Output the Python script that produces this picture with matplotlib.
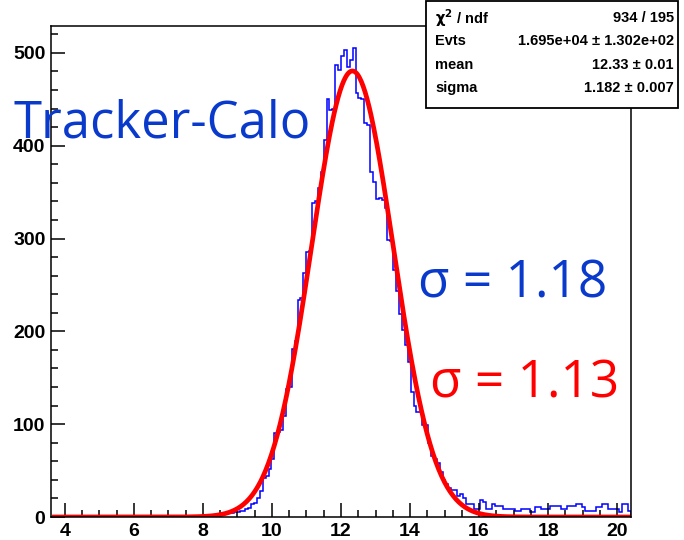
import numpy as np
import matplotlib.pyplot as plt
from matplotlib.patches import Rectangle
from matplotlib.ticker import MultipleLocator

# histogram: 200 bins between 3.6 and 20.4
x_min, x_max, n_bins = 3.6, 20.4, 200
counts = [0] * 55 + [
    1, 1, 2, 2, 3, 3, 4, 4, 5, 5,                                   # 55-64
    6, 6, 9, 10, 14, 15, 20, 28, 42, 44,                            # 65-74
    52, 62, 90, 92, 94, 109, 138, 140, 181, 190,                    # 75-84
    234, 236, 263, 286, 287, 338, 340, 355, 372, 406,               # 85-94
    450, 438, 440, 487, 482, 497, 503, 485, 492, 505,               # 95-104
    457, 451, 450, 424, 422, 372, 361, 343, 344, 342,               # 105-114
    333, 298, 297, 266, 244, 219, 201, 185, 167, 135,               # 115-124
    120, 113, 113, 99, 99, 80, 66, 62, 58, 48,                      # 125-134
    40, 36, 31, 29, 29, 23, 25, 20, 14, 14,                         # 135-144
    14, 9, 9, 18, 16, 9, 9, 14, 12, 12,                             # 145-154
    12, 9, 9, 9, 9, 7, 7, 9, 9, 9,                                  # 155-164
    5, 5, 11, 11, 9, 9, 9, 12, 12, 12,                              # 165-174
    12, 9, 9, 12, 12, 12, 14, 14, 11, 7,                            # 175-184
    7, 7, 7, 11, 11, 14, 14, 9, 9, 9,                               # 185-194
    9, 5, 14, 14, 7,                                                # 195-199
]

# fit result shown in the stat box
stat_names = [r"$\mathbf{\chi^{2}}$ / ndf", "Evts", "mean", "sigma"]
stat_values = ["934 / 195", "1.695e+04 ± 1.302e+02", "12.33 ± 0.01", "1.182 ± 0.007"]
evts, mean, sigma = 1.695e4, 12.33, 1.182

edges = np.linspace(x_min, x_max, n_bins + 1)
bw = edges[1] - edges[0]

W, H = 684, 540
fig = plt.figure(figsize=(W / 100, H / 100), dpi=100)
ax = fig.add_axes([51 / W, 1 - 517 / H, (631 - 51) / W, (517 - 26) / H])

ax.stairs(counts, edges, color="#0000ff", lw=1.1)

# gaussian fit curve from the stat box parameters
xf = np.linspace(3.63, x_max, 600)
amp = evts * bw / (np.sqrt(2 * np.pi) * sigma)
yf = amp * np.exp(-0.5 * ((xf - mean) / sigma) ** 2)
ax.plot(xf, yf, color="red", lw=3.4, solid_capstyle="butt")

ax.set_xlim(x_min, x_max)
ax.set_ylim(0, 529)
ax.xaxis.set_major_locator(MultipleLocator(2))
ax.xaxis.set_minor_locator(MultipleLocator(0.5))
ax.yaxis.set_major_locator(MultipleLocator(100))
ax.yaxis.set_minor_locator(MultipleLocator(20))
ax.tick_params(which="major", direction="in", length=10, width=1.1, pad=4)
ax.tick_params(which="minor", direction="in", length=5, width=1.1)
for lab in ax.get_xticklabels() + ax.get_yticklabels():
    lab.set_fontfamily("Liberation Sans")
    lab.set_fontweight("bold")
    lab.set_fontsize(14)
for sp in ax.spines.values():
    sp.set_linewidth(1.1)

# annotations
big = ["Open Sans", "DejaVu Sans"]
fig.text(13 / W, 1 - 138 / H, "Tracker-Calo", color="#0a3acc", fontsize=36.5,
         family=big, va="baseline", ha="left")
fig.text(418 / W, 1 - 297 / H, "σ = 1.18", color="#0a3acc", fontsize=37,
         family=big, va="baseline", ha="left")
fig.text(430 / W, 1 - 398 / H, "σ = 1.13", color="red", fontsize=37,
         family=big, va="baseline", ha="left")

# stat box
box = Rectangle((426 / W, 1 - 108 / H), (678 - 426) / W, 108 / H - 0.001,
                transform=fig.transFigure, facecolor="white", edgecolor="black",
                lw=1.3, zorder=5)
fig.patches.append(box)
for k, (name, val) in enumerate(zip(stat_names, stat_values)):
    yy = 1 - (18 + 23.4 * k) / H
    fig.text(435 / W, yy, name, fontsize=10.5, fontweight="bold",
             family="Liberation Sans", va="center", ha="left", zorder=6)
    fig.text(674 / W, yy, val, fontsize=10.5, fontweight="bold",
             family="Liberation Sans", va="center", ha="right", zorder=6)

fig.savefig("out.png", dpi=100)
